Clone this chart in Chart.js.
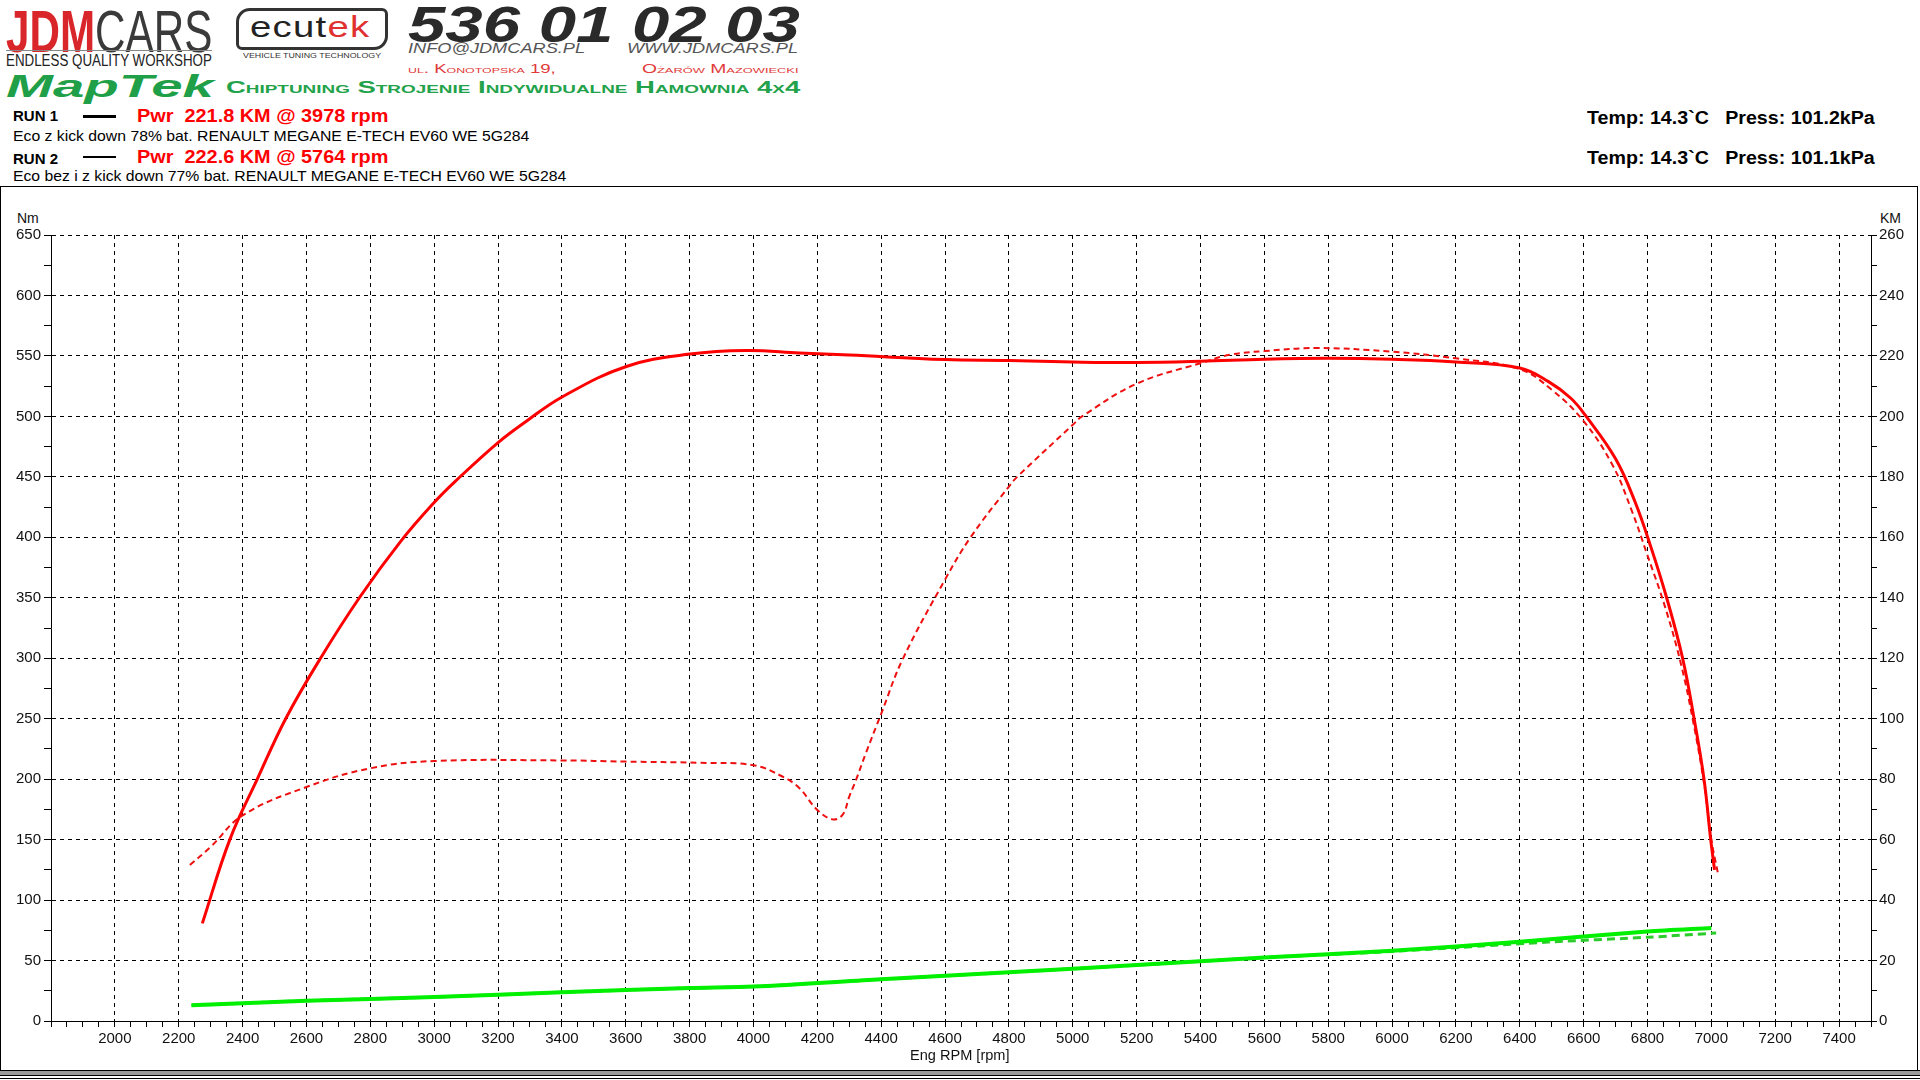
<!DOCTYPE html>
<html>
<head>
<meta charset="utf-8">
<script src="https://cdn.jsdelivr.net/npm/chart.js@4.4.1/dist/chart.umd.min.js"></script>
<style>
  html, body { margin: 0; padding: 0; background: #fff; }
  body { width: 1920px; height: 1080px; position: relative; overflow: hidden; font-family: 'Liberation Sans', Arial, sans-serif; }
  .t { position: absolute; white-space: nowrap; transform-origin: 0 50%; line-height: 1; }
  .narrow { font-family: 'Liberation Sans Narrow', 'Liberation Sans', Arial, sans-serif; }
  #frame { position: absolute; left: 0; top: 186px; width: 1916px; height: 884px; border: 1px solid #000; border-bottom: none; }
  #bottomBar { position: absolute; left: 0; top: 1070px; width: 1920px; height: 4px; background: #9a9a9a; border-top: 1px solid #000; border-bottom: 1px solid #000; }
  #bottomBar2 { position: absolute; left: 0; top: 1078px; width: 1920px; height: 1px; background: #000; }
  #wrap { position: absolute; left: 1px; top: 187px; width: 1918px; height: 878px; }
  .ecubox { position: absolute; left: 236px; top: 8px; width: 146px; height: 36px; border: 3px solid #333; border-radius: 14px 6px 14px 6px; }
</style>
</head>
<body>
<div id="frame"></div>
<div id="bottomBar"></div>
<div id="bottomBar2"></div>

<!-- header / logos -->
<div class="t narrow" id="jdm" style="left:6px; top:2px; font-size:60px;"><span style="color:#d9262b; font-weight:bold;">JDM</span><span style="color:#3a3a3a;">CARS</span></div>
<div style="position:absolute; left:6px; top:50px; width:206px; height:1px; background:#888;"></div>
<div class="t narrow" id="endless" style="left:6px; top:53px; font-size:16px; color:#222;">ENDLESS QUALITY WORKSHOP</div>
<div class="ecubox"></div>
<div class="t" id="ecutek" style="left:250px; top:12px; font-size:30px; letter-spacing:1px;"><span style="color:#222;">ecut</span><span style="color:#e03030;">ek</span></div>
<div class="t" id="vtt" style="left:243px; top:52px; font-size:8px; color:#333;">VEHICLE TUNING TECHNOLOGY</div>
<div class="t" id="phone" style="left:408px; top:0px; font-size:50px; font-weight:bold; font-style:italic; color:#2a2a2a;">536 01 02 03</div>
<div class="t" id="mail" style="left:408px; top:40px; font-size:15px; font-style:italic; color:#555;">INFO@JDMCARS.PL</div>
<div class="t" id="www" style="left:627px; top:40px; font-size:15px; font-style:italic; color:#555;">WWW.JDMCARS.PL</div>
<div class="t" id="street" style="left:408px; top:63px; font-size:12px; font-variant:small-caps; color:#e03a3a;">ul. Konotopska 19,</div>
<div class="t" id="city" style="left:642px; top:63px; font-size:12px; font-variant:small-caps; color:#e03a3a;">Ożarów Mazowiecki</div>
<div class="t" id="maptek" style="left:6px; top:70px; font-size:32px; font-weight:bold; font-style:italic; color:#1f9f48;">MapTek</div>
<div class="t" id="chip" style="left:226px; top:80px; font-size:16px; font-weight:bold; font-variant:small-caps; color:#22a24a;">Chiptuning Strojenie Indywidualne Hamownia 4x4</div>

<!-- runs -->
<div class="t" style="left:13px; top:108px; font-size:15px; font-weight:bold; color:#000;">RUN 1</div>
<div style="position:absolute; left:83px; top:115px; width:33px; height:3px; background:#000;"></div>
<div class="t" id="pwr1" style="left:137px; top:106px; font-size:19px; font-weight:bold; color:#f00;">Pwr&nbsp; 221.8 KM @ 3978 rpm</div>
<div class="t" id="eco1" style="left:13px; top:128px; font-size:15px; color:#000;">Eco z kick down 78% bat. RENAULT MEGANE E-TECH EV60 WE 5G284</div>
<div class="t" style="left:13px; top:151px; font-size:15px; font-weight:bold; color:#000;">RUN 2</div>
<div style="position:absolute; left:83px; top:156px; width:33px; height:2px; background:#000;"></div>
<div class="t" id="pwr2" style="left:137px; top:147px; font-size:19px; font-weight:bold; color:#f00;">Pwr&nbsp; 222.6 KM @ 5764 rpm</div>
<div class="t" id="eco2" style="left:13px; top:168px; font-size:15px; color:#000;">Eco bez i z kick down 77% bat. RENAULT MEGANE E-TECH EV60 WE 5G284</div>

<div class="t" id="temp1" style="left:1587px; top:109px; font-size:18px; font-weight:bold; color:#000;">Temp: 14.3`C&nbsp;&nbsp; Press: 101.2kPa</div>
<div class="t" id="temp2" style="left:1587px; top:149px; font-size:18px; font-weight:bold; color:#000;">Temp: 14.3`C&nbsp;&nbsp; Press: 101.1kPa</div>

<div class="t narrow" style="left:17px; top:211px; font-size:14px; color:#111;">Nm</div>
<div class="t narrow" style="left:1880px; top:211px; font-size:14px; color:#111;">KM</div>

<div id="wrap"><canvas id="dyno"></canvas></div>
<div class="t narrow" id="xtitle" style="left:910px; top:1047px; font-size:15px; color:#111;">Eng RPM [rpm]</div>

<script>
// tick labels
const rpmTicks = [2000, 2200, 2400, 2600, 2800, 3000, 3200, 3400, 3600, 3800, 4000, 4200, 4400, 4600, 4800, 5000, 5200, 5400, 5600, 5800, 6000, 6200, 6400, 6600, 6800, 7000, 7200, 7400];
const nmTicks = [0, 50, 100, 150, 200, 250, 300, 350, 400, 450, 500, 550, 600, 650];
const kmTicks = [0, 20, 40, 60, 80, 100, 120, 140, 160, 180, 200, 220, 240, 260];

// RUN 1 power [KM]
const run1Rpm = [2274, 2360, 2446, 2535, 2647, 2769, 2894, 3000, 3066, 3202, 3290, 3402, 3602, 3801, 3978, 4144, 4300, 4600, 4800, 5000, 5200, 5400, 5600, 5800, 6000, 6200, 6400, 6490, 6560, 6608, 6700, 6760, 6810, 6860, 6910, 6946, 6977, 6998, 7010];
const run1Pwr = [32.3, 60, 80, 100, 120.5, 140.5, 158.5, 171.5, 178.5, 191.5, 198.5, 206.5, 216.5, 220.6, 221.8, 221, 220.3, 218.8, 218.5, 218, 217.8, 218.2, 218.9, 219.2, 218.9, 218, 216, 211.5, 206, 200, 186, 172, 157, 140, 120, 100, 80, 60, 50];

// RUN 2 power [KM]
const run2Rpm = [2235, 2300, 2400, 2600, 2800, 3000, 3400, 3600, 3832, 4000, 4092, 4144, 4200, 4248, 4279, 4300, 4321, 4352, 4400, 4467, 4600, 4680, 4800, 4826, 5000, 5029, 5200, 5400, 5494, 5600, 5764, 6000, 6200, 6400, 6500, 6600, 6690, 6750, 6800, 6855, 6905, 6945, 6978, 7000, 7020];
const run2Pwr = [51.6, 57.6, 68, 77.4, 83.6, 86, 86.2, 85.8, 85.4, 84.6, 80.8, 77, 69.8, 66.7, 68.2, 74.2, 79.7, 88.6, 101.6, 119.6, 146, 160, 176.8, 180, 197.2, 200, 210.8, 217.6, 220.4, 221.6, 222.6, 221.4, 219.2, 215.6, 208.8, 198.4, 184, 169, 154, 137, 118, 98, 78, 60, 49.2];

// loss curves (green) [KM]
const loss1Rpm = [2240, 2600, 3000, 3400, 3800, 4000, 4400, 4800, 5200, 5600, 6000, 6400, 6800, 7000];
const loss1Pwr = [5.2, 6.7, 7.9, 9.5, 10.9, 11.4, 13.8, 16.1, 18.5, 21.0, 23.2, 26.2, 29.6, 30.8];
const loss2Rpm = [2240, 2600, 3000, 3400, 3800, 4000, 4400, 4800, 5200, 5600, 6000, 6488, 6800, 7015];
const loss2Pwr = [5.2, 6.7, 7.9, 9.5, 10.9, 11.4, 13.8, 16.1, 18.5, 21.0, 23.0, 26.1, 27.7, 29.1];

function pairs(xs, ys) { return xs.map((x, i) => ({ x: x, y: ys[i] })); }

const tickFont = { family: "'Liberation Sans Narrow', 'Liberation Sans', Arial, sans-serif", size: 15 };

const ctx = document.getElementById('dyno').getContext('2d');
new Chart(ctx, {
  type: 'line',
  data: {
    datasets: [
      { data: pairs(run1Rpm, run1Pwr), yAxisID: 'km', borderColor: '#ff0000', borderWidth: 3, tension: 0.4 },
      { data: pairs(run2Rpm, run2Pwr), yAxisID: 'km', borderColor: '#ee1010', borderWidth: 2, borderDash: [6, 4], tension: 0.4 },
      { data: pairs(loss1Rpm, loss1Pwr), yAxisID: 'km', borderColor: '#00f000', borderWidth: 4, tension: 0.3 },
      { data: pairs(loss2Rpm, loss2Pwr), yAxisID: 'km', borderColor: '#2ccc2c', borderWidth: 3, borderDash: [8, 5], tension: 0.3 }
    ]
  },
  options: {
    responsive: true,
    maintainAspectRatio: false,
    animation: false,
    layout: { padding: { top: 48, left: 0, right: 0, bottom: 0 } },
    elements: { point: { radius: 0 }, line: { fill: false } },
    plugins: { legend: { display: false }, tooltip: { enabled: false } },
    scales: {
      x: {
        type: 'linear', min: 1800, max: 7500,
        afterFit: (s) => { s.height = 44; },
        ticks: {
          stepSize: 50, autoSkip: false, maxRotation: 0, padding: 3, color: '#111', font: tickFont,
          callback: (v) => rpmTicks.includes(v) ? String(v) : ''
        },
        grid: {
          color: (c) => (c.tick && rpmTicks.includes(c.tick.value)) ? '#000' : 'rgba(0,0,0,0)',
          tickColor: '#000', tickLength: 6, lineWidth: 1
        },
        border: { display: true, color: '#000', width: 1, dash: [4, 4] }
      },
      nm: {
        type: 'linear', position: 'left', min: 0, max: 650,
        afterFit: (s) => { s.width = 50; },
        ticks: {
          stepSize: 25, autoSkip: false, padding: 3, color: '#111', font: tickFont,
          callback: (v) => nmTicks.includes(v) ? String(v) : ''
        },
        grid: {
          color: (c) => (c.tick && nmTicks.includes(c.tick.value) && c.tick.value > 0) ? '#000' : 'rgba(0,0,0,0)',
          tickColor: '#000', tickLength: 7, lineWidth: 1
        },
        border: { display: true, color: '#000', width: 1, dash: [4, 4] }
      },
      km: {
        type: 'linear', position: 'right', min: 0, max: 260,
        afterFit: (s) => { s.width = 48; },
        ticks: {
          stepSize: 10, autoSkip: false, padding: 2, color: '#111', font: tickFont,
          callback: (v) => kmTicks.includes(v) ? String(v) : ''
        },
        grid: { drawOnChartArea: false, tickColor: '#000', tickLength: 6 },
        border: { display: true, color: '#000', width: 1 }
      }
    }
  }
});

// squeeze header texts to the widths seen on the dyno sheet
function fitWidth(id, w) {
  const el = document.getElementById(id);
  el.style.transform = 'scaleX(' + (w / el.offsetWidth) + ')';
}
fitWidth('jdm', 206);
fitWidth('endless', 206);
fitWidth('ecutek', 120);
fitWidth('vtt', 138);
fitWidth('phone', 392);
fitWidth('mail', 177);
fitWidth('www', 171);
fitWidth('street', 147);
fitWidth('city', 156);
fitWidth('maptek', 208);
fitWidth('chip', 574);
fitWidth('pwr1', 251);
fitWidth('pwr2', 251);
fitWidth('eco1', 516);
fitWidth('eco2', 553);
fitWidth('temp1', 288);
fitWidth('temp2', 288);
fitWidth('xtitle', 100);
</script>
</body>
</html>
